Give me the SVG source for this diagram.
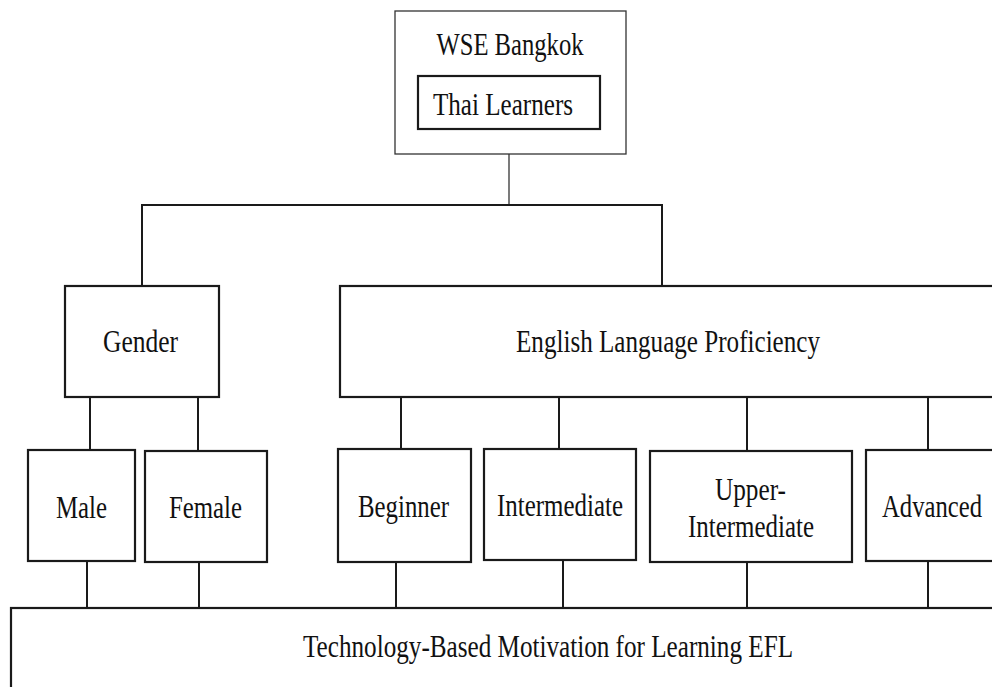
<svg xmlns="http://www.w3.org/2000/svg" width="992" height="687" viewBox="0 0 992 687">
<style>
.box{fill:#fff;stroke:#1a1a1a;stroke-width:2.2}
.outer{fill:#fff;stroke:#333;stroke-width:1.3}
.ln{stroke:#1a1a1a;stroke-width:2;fill:none}
.thin{stroke:#333;stroke-width:1.3;fill:none}
.t{font-family:'Liberation Serif','Times New Roman',serif;font-size:32px;fill:#111;text-anchor:middle}
</style>
<rect width="992" height="687" fill="#fff"/>
<g id="connectors">
<line class="thin" x1="509" y1="129" x2="509" y2="205"/>
<polyline class="ln" points="142,287 142,205 662,205 662,287"/>
<line class="ln" x1="90" y1="397" x2="90" y2="450"/>
<line class="ln" x1="198" y1="397" x2="198" y2="450"/>
<line class="ln" x1="401" y1="397" x2="401" y2="449"/>
<line class="ln" x1="559" y1="397" x2="559" y2="449"/>
<line class="ln" x1="747" y1="397" x2="747" y2="451"/>
<line class="ln" x1="928" y1="397" x2="928" y2="450"/>
<line class="ln" x1="87" y1="561" x2="87" y2="608"/>
<line class="ln" x1="199" y1="562" x2="199" y2="608"/>
<line class="ln" x1="396" y1="562" x2="396" y2="608"/>
<line class="ln" x1="563" y1="561" x2="563" y2="608"/>
<line class="ln" x1="747" y1="562" x2="747" y2="608"/>
<line class="ln" x1="928" y1="561" x2="928" y2="608"/>
</g>
<g id="wse">
<rect class="outer" x="395" y="11" width="231" height="143"/>
<text class="t" x="510" y="55" textLength="147" lengthAdjust="spacingAndGlyphs">WSE Bangkok</text>
</g>
<g id="thai">
<rect class="box" x="418" y="76" width="182" height="53"/>
<text class="t" x="503" y="115" textLength="140" lengthAdjust="spacingAndGlyphs">Thai Learners</text>
</g>
<g id="gender">
<rect class="box" x="65" y="286" width="154" height="111"/>
<text class="t" x="140.5" y="352" textLength="75" lengthAdjust="spacingAndGlyphs">Gender</text>
</g>
<g id="elp">
<rect class="box" x="340" y="286" width="670" height="111"/>
<text class="t" x="668" y="352" textLength="304" lengthAdjust="spacingAndGlyphs">English Language Proficiency</text>
</g>
<g id="male">
<rect class="box" x="28" y="450" width="107" height="111"/>
<text class="t" x="81.5" y="518" textLength="51" lengthAdjust="spacingAndGlyphs">Male</text>
</g>
<g id="female">
<rect class="box" x="145" y="451" width="122" height="111"/>
<text class="t" x="205.5" y="518" textLength="73" lengthAdjust="spacingAndGlyphs">Female</text>
</g>
<g id="beginner">
<rect class="box" x="338" y="449" width="133" height="113"/>
<text class="t" x="403.5" y="517" textLength="91" lengthAdjust="spacingAndGlyphs">Beginner</text>
</g>
<g id="intermediate">
<rect class="box" x="484" y="449" width="152" height="111"/>
<text class="t" x="560" y="516" textLength="126" lengthAdjust="spacingAndGlyphs">Intermediate</text>
</g>
<g id="upper">
<rect class="box" x="650" y="451" width="202" height="111"/>
<text class="t" x="750.5" y="500" textLength="71" lengthAdjust="spacingAndGlyphs">Upper-</text>
<text class="t" x="751" y="537" textLength="126" lengthAdjust="spacingAndGlyphs">Intermediate</text>
</g>
<g id="advanced">
<rect class="box" x="866" y="450" width="140" height="111"/>
<text class="t" x="932" y="517" textLength="100" lengthAdjust="spacingAndGlyphs">Advanced</text>
</g>
<g id="motivation">
<rect class="box" x="11" y="608" width="1000" height="100"/>
<text class="t" x="548" y="657" textLength="490" lengthAdjust="spacingAndGlyphs">Technology-Based Motivation for Learning EFL</text>
</g>
</svg>
